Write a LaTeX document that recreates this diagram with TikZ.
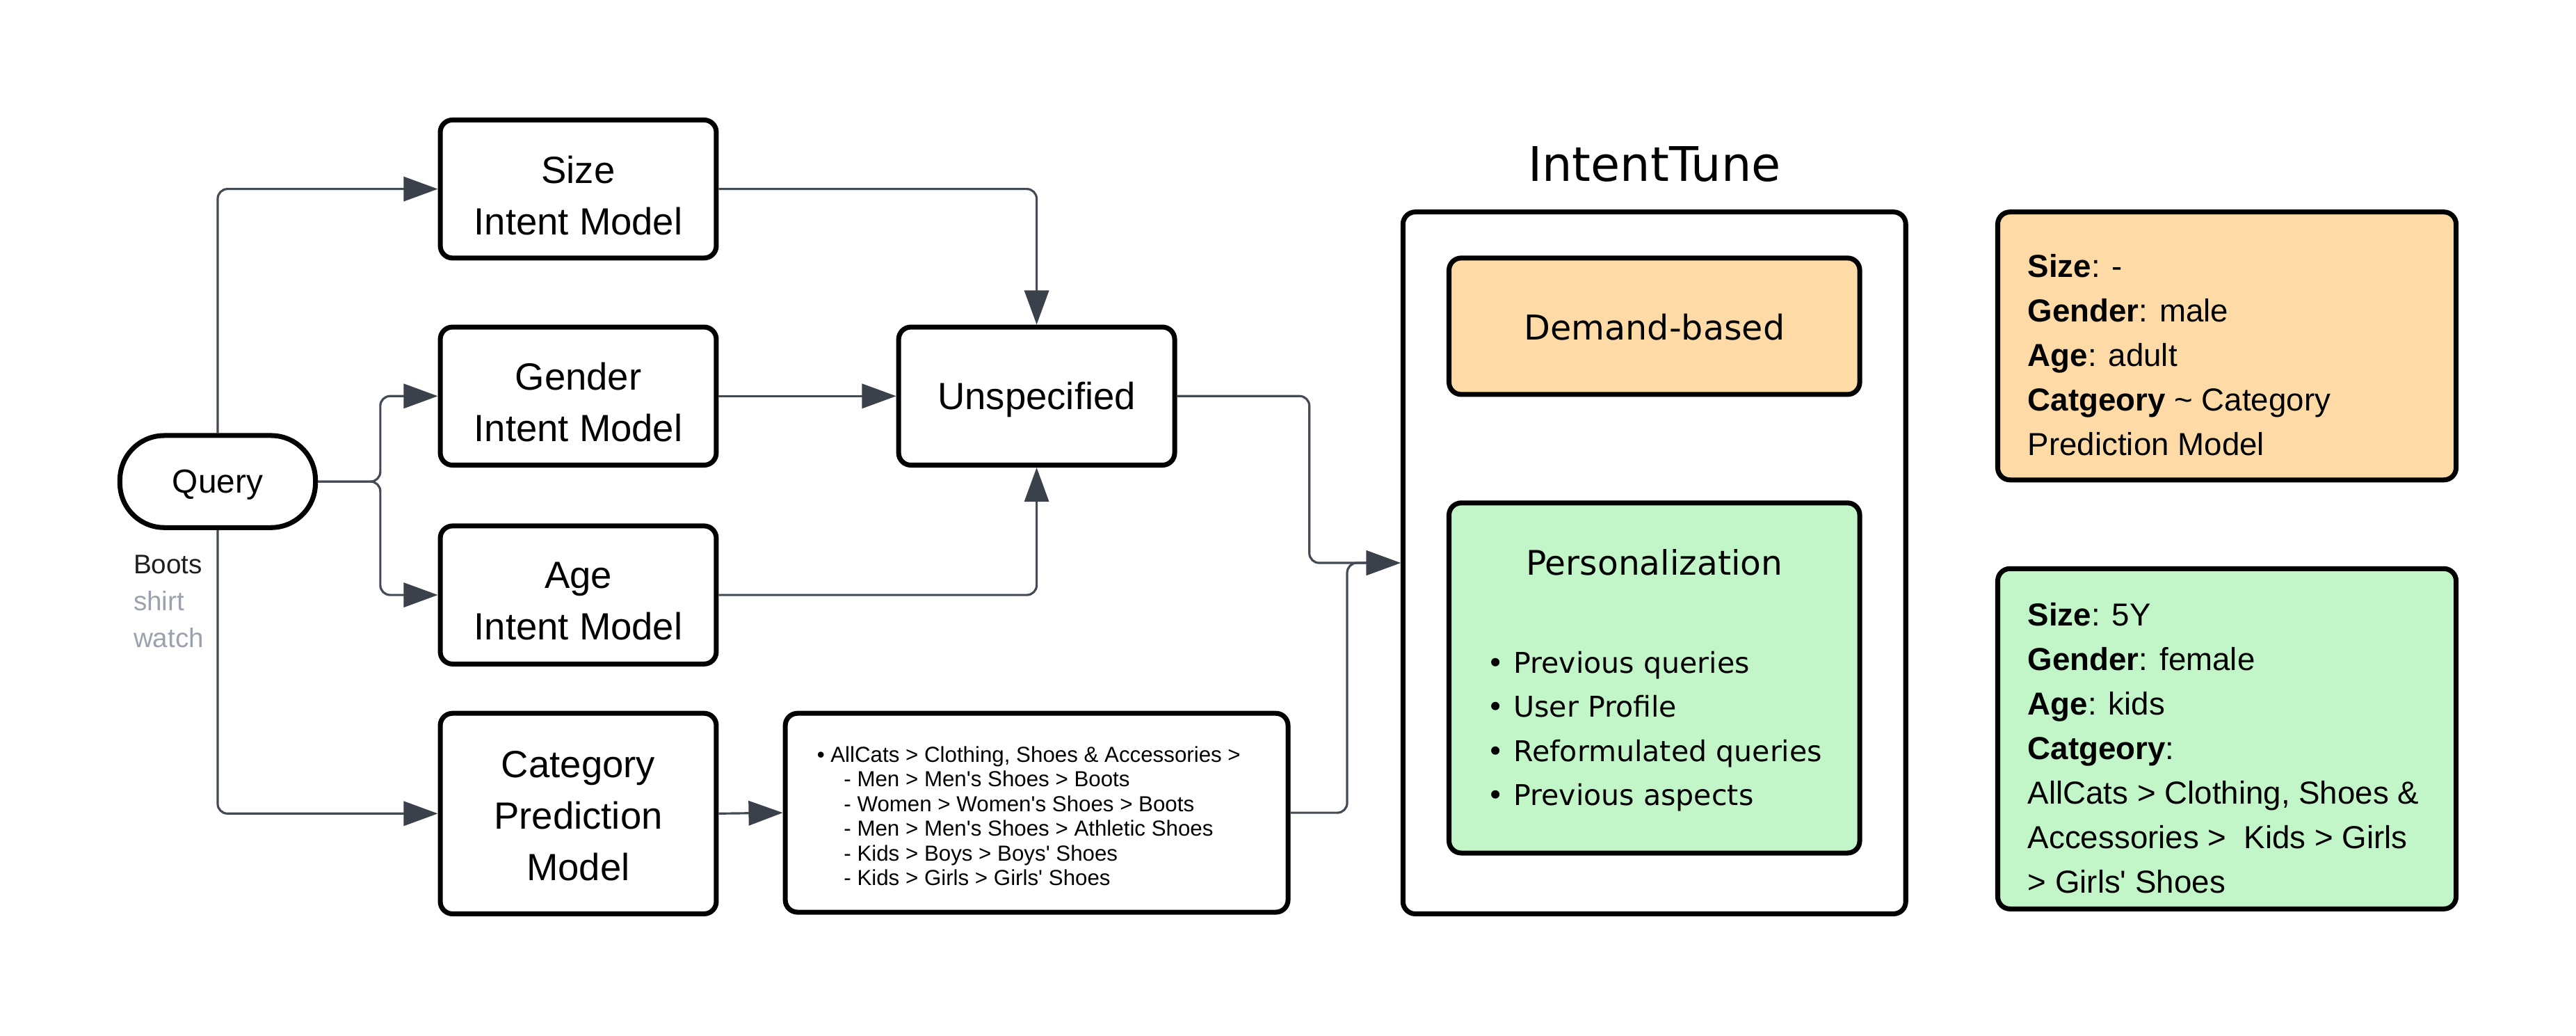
\documentclass[tikz,border=0pt]{standalone}
\usepackage{fontspec}
\setmainfont{Liberation Sans}
\newfontfamily\widefont{DejaVu Sans}
\usetikzlibrary{arrows.meta}
\definecolor{conncol}{HTML}{434A54}
\definecolor{tipcol}{HTML}{3B414B}
\definecolor{orangefill}{HTML}{FEDBA6}
\definecolor{greenfill}{HTML}{C2F5C8}
\definecolor{graytext}{HTML}{9CA2AD}
\def\u{0.6721pt}
\newcommand{\sq}{\textquotesingle}
\newcommand{\bul}{\makebox[10.75pt][l]{•}}
\begin{document}
\begin{tikzpicture}[x=0.023622cm, y=-0.023622cm,
  box/.style={draw=black, line width=2pt, rounded corners=5pt, fill=white, inner sep=0pt},
  btxt/.style={inner sep=0pt, align=center, font=\fontsize{15.5}{21}\selectfont},
  model/.style={box, minimum width=168*\u, minimum height=84*\u},
  conn/.style={draw=conncol, line width=0.9pt, rounded corners=4pt, -{Triangle[length=14pt,width=10pt,color=tipcol]}},
  info/.style={anchor=west, align=left, inner sep=0pt, font=\fontsize{13}{18.2}\selectfont},
]
\useasboundingbox (0,0) rectangle (1568,630);

% left column
\node[box, minimum width=119*\u, minimum height=56*\u, rounded corners=27*\u] (q) at (132.5,293) {};
\node[inner sep=0pt, font=\fontsize{13.6}{16}\selectfont] (qt) at ([yshift=-1.3pt]q.center) {Query};
\node[anchor=west, align=left, inner sep=0pt, font=\fontsize{11}{15.1}\selectfont] (ex) at (81,366) {\textcolor{black!88}{Boots}\\\textcolor{graytext}{shirt}\\\textcolor{graytext}{watch}};

\node[model] (size) at (352,115) {};
\node[btxt] (sizet) at ([yshift=-2.6pt]size.center) {Size\\Intent Model};
\node[model] (gender) at (352,241) {};
\node[btxt] (gendert) at ([yshift=-2.6pt]gender.center) {Gender\\Intent Model};
\node[model] (age) at (352,362) {};
\node[btxt] (aget) at ([yshift=-2.6pt]age.center) {Age\\Intent Model};
\node[box, minimum width=168*\u, minimum height=122*\u] (cat) at (352,495) {};
\node[btxt] (catt) at ([yshift=-1pt]cat.center) {Category\\Prediction\\Model};

\node[model] (unsp) at (631,241) {};
\node[btxt] (unspt) at ([yshift=-1.4pt]unsp.center) {Unspecified};
\node[box, minimum width=306*\u, minimum height=121*\u] (list) at (631,494.5) {};
\node[anchor=west, align=left, inner sep=0pt, font=\fontsize{8.9}{10.1}\selectfont] (listtxt) at (497,496.5)
 {• AllCats > Clothing, Shoes \& Accessories >\\
  \hspace*{11pt}- Men > Men\sq s Shoes > Boots\\
  \hspace*{11pt}- Women > Women\sq s Shoes > Boots\\
  \hspace*{11pt}- Men > Men\sq s Shoes > Athletic Shoes\\
  \hspace*{11pt}- Kids > Boys > Boys\sq\ Shoes\\
  \hspace*{11pt}- Kids > Girls > Girls\sq\ Shoes};

% IntentTune
\node[inner sep=0pt, font=\widefont\fontsize{19.5}{22}\selectfont] (ttl) at (1007,100) {IntentTune};
\node[box, minimum width=306*\u, minimum height=427*\u] (outer) at (1007,342.5) {};
\node[box, fill=orangefill, minimum width=250*\u, minimum height=83*\u] (dem) at (1007,198.5) {};
\node[inner sep=0pt, font=\widefont\fontsize{14}{16}\selectfont] (demt) at ([yshift=-0.5pt]dem.center) {Demand-based};
\node[box, fill=greenfill, minimum width=250*\u, minimum height=213*\u] (pers) at (1007,412.5) {};
\node[inner sep=0pt, font=\widefont\fontsize{13.85}{16}\selectfont] (perst) at (1007,342) {Personalization};
\node[anchor=west, align=left, inner sep=0pt, font=\widefont\fontsize{11.7}{18.1}\selectfont] (persl) at (905,445)
 {\bul Previous queries\\
  \bul User Profile\\
  \bul Reformulated queries\\
  \bul Previous aspects};

% info boxes
\node[box, fill=orangefill, minimum width=279*\u, minimum height=163*\u] (ob) at (1355.5,210.5) {};
\node[info] (obt) at (1234,216) {\textbf{Size}: -\\\textbf{Gender}: male\\\textbf{Age}: adult\\\textbf{Catgeory} \textasciitilde{} Category\\Prediction Model};
\node[box, fill=greenfill, minimum width=279*\u, minimum height=207*\u] (gb) at (1355.5,449.5) {};
\node[info] (gbt) at (1234,455) {\textbf{Size}: 5Y\\\textbf{Gender}: female\\\textbf{Age}: kids\\\textbf{Catgeory}:\\AllCats > Clothing, Shoes \&\\Accessories >\ \ Kids > Girls\\> Girls\sq\ Shoes};

% connectors
\draw[conn] (q.north) |- (size.west);
\draw[conn] (q.east) -- ++(38,0) |- (gender.west);
\draw[conn] (q.east) -- ++(38,0) |- (age.west);
\draw[conn] (q.south) |- (cat.west);
\draw[conn] (size.east) -| (unsp.north);
\draw[conn] (gender.east) -- (unsp.west);
\draw[conn] (age.east) -| (unsp.south);
\draw[conn] (cat.east) -- (list.west);
\draw[conn] (unsp.east) -- (797,241) |- (outer.west);
\draw[conn] (list.east) -- (820,494.5) |- (outer.west);
\end{tikzpicture}
\end{document}
